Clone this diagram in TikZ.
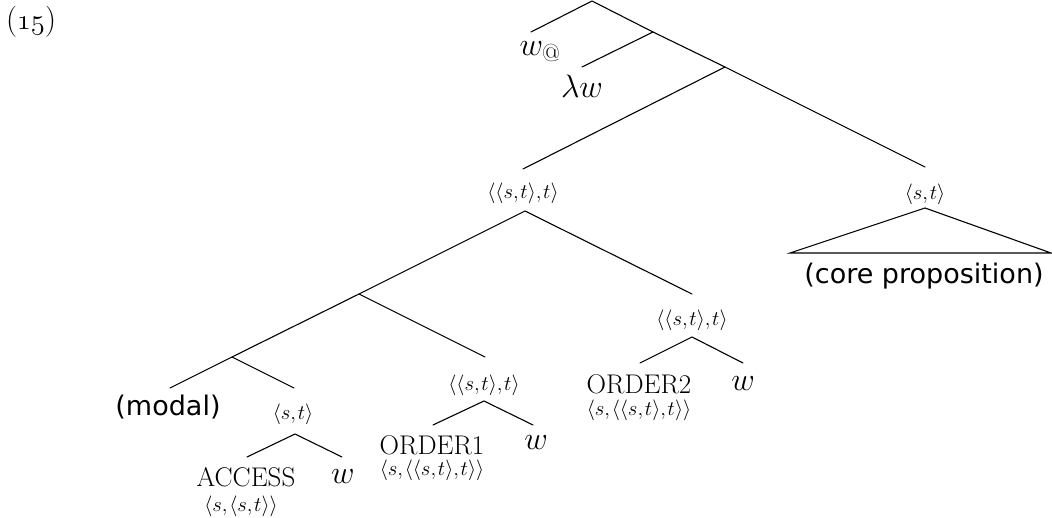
\documentclass[tikz,border=0pt]{standalone}
\usepackage{fontspec}
\newfontfamily\labelsans{DejaVu Sans}
\tikzset{
  br/.style={line width=1.1pt, line cap=round},
  big/.style={font=\fontsize{27}{31}\selectfont, inner sep=0pt},
  var/.style={big, scale=1.3},
  typ/.style={font=\fontsize{21}{24}\selectfont, inner sep=0pt},
  sfl/.style={font=\labelsans\fontsize{27}{31}\selectfont, inner sep=0pt}
}
% type labels: a little air after each comma
\newcommand{\cm}{{,}\mkern1.5mu}
\newcommand{\tst}{$\langle s\cm t\rangle$}
\newcommand{\tstt}{$\langle\langle s\cm t\rangle\cm t\rangle$}
\newcommand{\osf}[1]{{\usefont{OML}{cmm}{m}{it}#1}}
\begin{document}
\begin{tikzpicture}[x=1pt, y=-1pt]
\useasboundingbox (0,0) rectangle (1052,518);

% example number
\node[big, scale=1.15] (num) at (31,22) {(\osf{15})};

% branching points of the spine
\coordinate (root) at (592,1);
\coordinate (n1) at (653,32);
\coordinate (n2) at (725,67);
\coordinate (n3) at (525,211);
\coordinate (n4) at (359,294);
\coordinate (n5) at (232,357);

% upper daughters
\coordinate (e0) at (531,32);
\coordinate (e1) at (582,67);
\node[var] (wat) at (540,52) {$w_{@}$};
\node[var] (lw) at (582,86) {$\lambda w$};

\coordinate (eL) at (523,169);
\coordinate (eR) at (925,167);
\node[typ] (gq) at (523,193) {\tstt};
\node[typ] (prop) at (925,194) {\tst};

% core proposition triangle
\coordinate (tA) at (925,208);
\coordinate (tL) at (790,253);
\coordinate (tR) at (1051,253);
\node[sfl] (core) at (924,276) {(core proposition)};

% ORDER2 branch
\coordinate (e2) at (692,294);
\node[typ] (o2t) at (692,320) {\tstt};
\coordinate (o2a) at (692,337);
\coordinate (o2l) at (640,363);
\coordinate (o2r) at (743,363);
\node[big] (o2) at (639,384) {ORDER2};
\node[var] (o2w) at (743,384) {$w$};
\node[typ] (o2ty) at (639,410) {$\langle s\cm\langle\langle s\cm t\rangle\cm t\rangle\rangle$};

% ORDER1 branch
\coordinate (e3) at (485,357);
\node[typ] (o1t) at (484,385) {\tstt};
\coordinate (o1a) at (484,401);
\coordinate (o1l) at (433,425);
\coordinate (o1r) at (533,425);
\node[big] (o1) at (432,445) {ORDER1};
\node[var] (o1w) at (536,443) {$w$};
\node[typ] (o1ty) at (432,470) {$\langle s\cm\langle\langle s\cm t\rangle\cm t\rangle\rangle$};

% modal and ACCESS branch
\coordinate (e4) at (170,388);
\coordinate (e5) at (294,388);
\node[sfl] (modal) at (168,407) {(modal)};
\node[typ] (acct) at (293,414) {\tst};
\coordinate (aa) at (295,434);
\coordinate (al) at (247,457);
\coordinate (ar) at (342,457);
\node[big] (acc) at (246,477) {ACCESS};
\node[var] (accw) at (343,477) {$w$};
\node[typ] (accty) at (241,506) {$\langle s\cm\langle s\cm t\rangle\rangle$};

% branches
\draw[br] (e0) -- (root) -- (n1) -- (n2) -- (eR);
\draw[br] (n1) -- (e1);
\draw[br] (n2) -- (eL);
\draw[br] (tL) -- (tA) -- (tR) -- cycle;
\draw[br] (e4) -- (n5) -- (n4) -- (n3) -- (e2);
\draw[br] (n4) -- (e3);
\draw[br] (n5) -- (e5);
\draw[br] (o2l) -- (o2a) -- (o2r);
\draw[br] (o1l) -- (o1a) -- (o1r);
\draw[br] (al) -- (aa) -- (ar);
\end{tikzpicture}
\end{document}
